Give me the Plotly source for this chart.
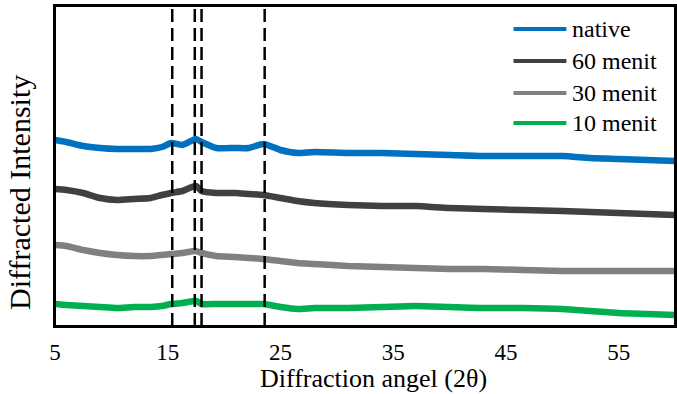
import plotly.graph_objects as go

# Diffraction angle (2θ) sample positions
angle = [5, 6, 7.5, 9, 10.5, 12, 13.5, 14.5, 15.3, 16.3, 17.5, 18, 19.3, 21, 22.2,
         23.5, 25, 26.5, 28, 31, 34, 37, 40, 43, 46.5, 50, 52.5, 55, 57.5, 60]

# Intensities (arbitrary units, offset-stacked as in the original figure)
native = [1860, 1840, 1800, 1780, 1770, 1770, 1770, 1790, 1830, 1810, 1870, 1840, 1780, 1780, 1780,
          1820, 1760, 1730, 1740, 1730, 1730, 1720, 1710, 1700, 1700, 1700, 1680, 1670, 1660, 1650]
menit60 = [1370, 1360, 1330, 1280, 1260, 1270, 1280, 1310, 1330, 1350, 1400, 1350, 1330, 1330, 1320,
           1310, 1280, 1250, 1230, 1210, 1200, 1200, 1180, 1170, 1160, 1150, 1140, 1130, 1120, 1110]
menit30 = [810, 800, 760, 730, 710, 700, 700, 710, 720, 730, 750, 730, 700, 690, 680,
           670, 650, 630, 620, 600, 590, 580, 570, 570, 560, 550, 550, 550, 550, 550]
menit10 = [220, 210, 200, 190, 180, 190, 190, 200, 220, 230, 250, 220, 220, 220, 220,
           220, 190, 170, 180, 180, 190, 200, 190, 180, 180, 170, 150, 130, 120, 110]

series_names = ["native", "60 menit", "30 menit", "10 menit"]
series_values = [native, menit60, menit30, menit10]
series_colors = ["#0070C0", "#404040", "#808080", "#00B050"]

# Reference peak positions (dashed lines)
peaks = [15.4, 17.4, 18.0, 23.6]

x_ticks = [5, 15, 25, 35, 45, 55]

FONT = "Liberation Serif"

fig = go.Figure()
for name, vals, col in zip(series_names, series_values, series_colors):
    fig.add_trace(go.Scatter(x=angle, y=vals, mode="lines", name=name,
                             line=dict(color=col, width=6.5, shape="spline", smoothing=0.6),
                             showlegend=False))

for p in peaks:
    fig.add_shape(type="line", xref="x", yref="paper", x0=p, x1=p, y0=0, y1=0.995,
                  line=dict(color="black", width=2.5, dash="13px,6px"))

# plot-area frame
fig.add_shape(type="rect", xref="paper", yref="paper", x0=0, x1=1, y0=0, y1=1,
              line=dict(color="black", width=2), fillcolor="rgba(0,0,0,0)")

# legend drawn as line samples + labels in the top-right corner
legend_y = [0.928, 0.828, 0.728, 0.634]
for name, col, ly in zip(series_names, series_colors, legend_y):
    fig.add_shape(type="line", xref="paper", yref="paper", x0=0.7395, x1=0.8248, y0=ly, y1=ly,
                  line=dict(color=col, width=4))
    fig.add_annotation(xref="paper", yref="paper", x=0.831, y=ly, text=name, showarrow=False,
                       xanchor="left", yanchor="middle",
                       font=dict(family=FONT, size=24, color="black"))

fig.add_annotation(xref="paper", yref="paper", x=0.5145, y=-0.163, text="Diffraction angel (2θ)",
                   showarrow=False, xanchor="center", yanchor="middle",
                   font=dict(family=FONT, size=26, color="black"))
fig.add_annotation(xref="paper", yref="paper", x=-0.0563, y=0.416, text="Diffracted Intensity",
                   showarrow=False, xanchor="center", yanchor="middle", textangle=-90,
                   font=dict(family=FONT, size=30, color="black"))

fig.update_layout(
    width=677, height=394,
    margin=dict(l=55, r=0, t=6, b=68),
    paper_bgcolor="white", plot_bgcolor="white",
    font=dict(family=FONT, size=23, color="black"),
    showlegend=False,
    xaxis=dict(range=[5, 60], tickvals=x_ticks, ticktext=[str(t) for t in x_ticks],
               showgrid=False, zeroline=False, showline=True, linecolor="black", linewidth=2,
               mirror=True, ticks="", ticklabelstandoff=4,
               tickfont=dict(family=FONT, size=23, color="black")),
    yaxis=dict(range=[0, 3200], showgrid=False, zeroline=False, showline=True,
               linecolor="black", linewidth=2, mirror=True, showticklabels=False, ticks=""),
)

fig.write_html("out.html", config={"displayModeBar": False},
               post_script="document.body.style.margin='0px';")
